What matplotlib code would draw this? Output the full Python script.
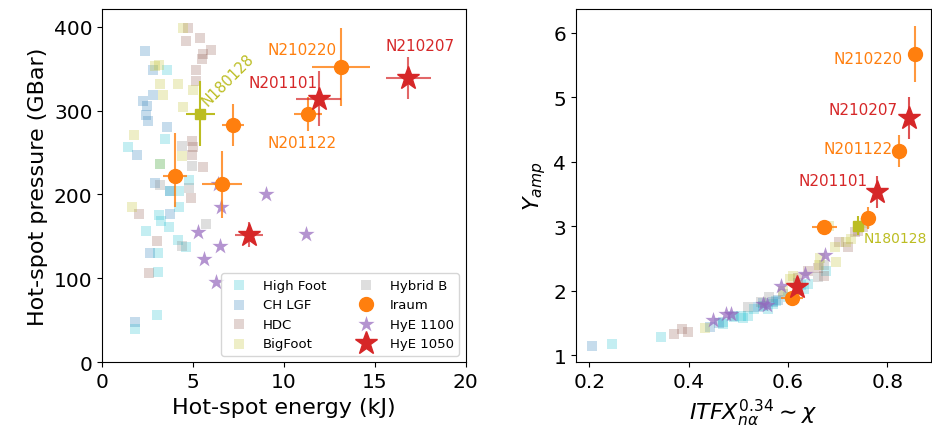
import matplotlib
matplotlib.use("Agg")
import matplotlib.pyplot as plt

# ---------------- Left panel data (Hot-spot energy kJ, pressure GBar) ----------------
hf_E = [3.57, 3.47, 1.44, 3.19, 4.76, 4.21, 3.75, 3.10, 4.24, 3.25, 3.65, 2.42, 4.17, 4.58, 3.05, 3.05, 3.01, 1.81]
hf_P = [348.7, 266.4, 256.1, 236.2, 217.4, 204.3, 204.3, 175.7, 184.6, 167.8, 160.7, 156.6, 145.9, 137.2, 130.0, 108.2, 56.4, 39.7]
ch_E = [2.37, 2.79, 2.79, 2.22, 2.46, 2.42, 2.52, 3.57, 1.91, 2.92, 3.75, 2.64, 1.81, 3.75]
ch_P = [370.6, 348.7, 318.8, 311.7, 305.7, 295.0, 287.9, 280.7, 247.3, 213.5, 204.3, 130.0, 48.6, 176.5]
hdc_E = [4.70, 4.58, 5.35, 6.00, 5.55, 5.46, 5.13, 5.13, 4.91, 5.00, 4.95, 5.55, 4.89, 2.03, 3.01, 2.55]
hdc_P = [398.5, 383.3, 386.5, 372.6, 367.7, 361.8, 348.7, 334.9, 263.3, 256.1, 247.3, 232.6, 195.7, 176.9, 144.6, 106.1]
bf_E = [4.45, 3.10, 2.92, 3.19, 4.17, 5.00, 3.32, 4.45, 1.76, 4.39, 3.16, 1.63]
bf_P = [398.5, 354.6, 352.7, 331.6, 331.6, 324.8, 318.8, 304.2, 271.2, 245.3, 236.2, 184.6]
hyb_E = [4.36, 4.95, 3.19, 4.76, 5.68, 4.36]
hyb_P = [258.0, 233.5, 211.5, 207.5, 165.0, 138.7]

ir_E = [7.19, 13.12, 11.32, 4.00, 6.60]
ir_P = [283.1, 351.9, 295.9, 222.6, 211.9]
ir_Exerr = [0.63, 1.6, 0.75, 0.65, 1.1]
ir_Perr_lo = [25, 46, 20, 38, 40]
ir_Perr_hi = [25, 46, 20, 51, 40]

h1100_E = [9.01, 6.53, 5.28, 11.21, 6.48, 5.61, 6.26, 6.38]
h1100_P = [200.8, 184.9, 155.1, 153.1, 138.4, 123.2, 95.4, 212.7]

h1050_E = [16.84, 11.91, 8.09]
h1050_P = [339.2, 314.1, 152.2]
h1050_Exerr = [1.25, 1.25, 0.78]
h1050_Perr = [25, 33, 15]

n180128_E, n180128_P, n180128_Exerr, n180128_Perr = 5.38, 296.2, 0.8, 39

# ---------------- Right panel data (ITFX^0.34, Y_amp) ----------------
hf_X = [0.246, 0.344, 0.470, 0.469, 0.492, 0.506, 0.532, 0.569, 0.576, 0.633, 0.626, 0.677, 0.550, 0.560, 0.510, 0.520, 0.600, 0.640]
hf_Y = [1.175, 1.28, 1.48, 1.51, 1.585, 1.61, 1.71, 1.79, 1.84, 2.02, 2.08, 2.31, 1.76, 1.72, 1.57, 1.60, 1.90, 2.10]
ch_X = [0.205, 0.442, 0.540, 0.550, 0.570, 0.490, 0.580, 0.460]
ch_Y = [1.135, 1.44, 1.75, 1.80, 1.82, 1.60, 1.85, 1.50]
hdc_X = [0.371, 0.387, 0.399, 0.673, 0.703, 0.720, 0.734, 0.741, 0.751, 0.660, 0.620, 0.640]
hdc_Y = [1.33, 1.41, 1.36, 2.23, 2.75, 2.67, 2.91, 2.93, 2.98, 2.35, 2.20, 2.30]
bf_X = [0.433, 0.589, 0.603, 0.609, 0.663, 0.697, 0.694, 0.717, 0.727, 0.683, 0.755, 0.665]
bf_Y = [1.42, 2.00, 2.18, 2.23, 2.39, 2.45, 2.67, 2.75, 2.80, 3.00, 3.05, 2.50]
hyb_X = [0.519, 0.546, 0.562, 0.660, 0.673, 0.590, 0.620]
hyb_Y = [1.74, 1.82, 1.90, 2.21, 2.39, 1.95, 2.12]

ir_X = [0.762, 0.855, 0.824, 0.673, 0.608]
ir_Y = [3.13, 5.67, 4.17, 2.98, 1.885]
ir_Xerr = [0.01, 0.0, 0.0, 0.025, 0.022]
ir_Yerr = [0.17, 0.44, 0.25, 0.0, 0.0]

h1100_X = [0.448, 0.475, 0.485, 0.549, 0.586, 0.635, 0.675, 0.558]
h1100_Y = [1.548, 1.64, 1.64, 1.79, 2.07, 2.26, 2.55, 1.77]

h1050_X = [0.843, 0.779, 0.618]
h1050_Y = [4.68, 3.53, 2.05]
h1050_Yerr = [0.32, 0.25, 0.1]

n180128_X, n180128_Y, n180128_Yerr = 0.741, 3.01, 0.15

# annotation labels
lab_left = {"N210220": (11.0, 373), "N210207": (17.48, 377.7), "N201101": (9.97, 333),
            "N201122": (11.0, 262.5)}
lab_right = {"N210220": (0.831, 5.6), "N210207": (0.82, 4.81), "N201122": (0.811, 4.21),
             "N201101": (0.76, 3.71)}
lab_colors = {"N210220": "tab:orange", "N201122": "tab:orange", "N210207": "tab:red", "N201101": "tab:red"}

fig = plt.figure(figsize=(9.32, 4.39), dpi=100)
axL = fig.add_axes([0.1098, 0.1724, 0.3899, 0.8048])
axR = fig.add_axes([0.618, 0.1724, 0.381, 0.8048])

sq = 52
bg_series = [
    ("High Foot", "tab:cyan"),
    ("CH LGF", "tab:blue"),
    ("HDC", "tab:brown"),
    ("BigFoot", "tab:olive"),
    ("Hybrid B", "tab:gray"),
]
left_bg = [(hf_E, hf_P), (ch_E, ch_P), (hdc_E, hdc_P), (bf_E, bf_P), (hyb_E, hyb_P)]
right_bg = [(hf_X, hf_Y), (ch_X, ch_Y), (hdc_X, hdc_Y), (bf_X, bf_Y), (hyb_X, hyb_Y)]

for ax, bgdata in ((axL, left_bg), (axR, right_bg)):
    for (name, col), (xs, ys) in zip(bg_series, bgdata):
        ax.scatter(xs, ys, s=sq, marker="s", color=col, alpha=0.25, linewidths=0,
                   label=name, zorder=2)

# ---- Left highlighted ----
axL.errorbar(n180128_E, n180128_P, xerr=n180128_Exerr, yerr=n180128_Perr, fmt="s",
             color="tab:olive", ms=7.5, elinewidth=1.5, zorder=3)
axL.scatter(h1100_E, h1100_P, s=150, marker="*", color="tab:purple", alpha=0.7,
            linewidths=0, label="HyE 1100", zorder=4)
axL.errorbar(ir_E, ir_P, xerr=ir_Exerr, yerr=[ir_Perr_lo, ir_Perr_hi], fmt="none",
             ecolor="tab:orange", elinewidth=1.5, alpha=0.8, zorder=5)
axL.plot(ir_E, ir_P, "o", color="tab:orange", ms=10, ls="none", label="Iraum", zorder=5)
axL.errorbar(h1050_E, h1050_P, xerr=h1050_Exerr, yerr=h1050_Perr, fmt="none",
             ecolor="tab:red", elinewidth=1.5, alpha=0.7, zorder=6)
axL.plot(h1050_E, h1050_P, "*", color="tab:red", ms=17, ls="none", label="HyE 1050", zorder=6)

for k, (x, y) in lab_left.items():
    axL.text(x, y, k, color=lab_colors[k], fontsize=11, ha="center", va="center")
axL.text(6.9, 337, "N180128", color="tab:olive", fontsize=10.5, rotation=45,
         ha="center", va="center")

axL.set_xlim(0, 20)
axL.set_ylim(0, 421)
axL.set_xticks([0, 5, 10, 15, 20])
axL.set_yticks([0, 100, 200, 300, 400])
axL.set_xlabel("Hot-spot energy (kJ)", fontsize=16)
axL.set_ylabel("Hot-spot pressure (GBar)", fontsize=16)
axL.tick_params(labelsize=14.5)

handles, labels = axL.get_legend_handles_labels()
order = ["High Foot", "CH LGF", "HDC", "BigFoot", "Hybrid B", "Iraum", "HyE 1100", "HyE 1050"]
hmap = dict(zip(labels, handles))
axL.legend([hmap[o] for o in order], order, loc="lower right", ncol=2, fontsize=9.5,
           scatterpoints=1, numpoints=1)

# ---- Right highlighted ----
axR.errorbar(n180128_X, n180128_Y, yerr=n180128_Yerr, fmt="s", color="tab:olive",
             ms=7.5, elinewidth=1.5, zorder=3)
axR.scatter(h1100_X, h1100_Y, s=150, marker="*", color="tab:purple", alpha=0.7,
            linewidths=0, zorder=4)
axR.errorbar(ir_X, ir_Y, xerr=ir_Xerr, yerr=ir_Yerr, fmt="none", ecolor="tab:orange",
             elinewidth=1.5, alpha=0.8, zorder=5)
axR.plot(ir_X, ir_Y, "o", color="tab:orange", ms=10, ls="none", zorder=5)
axR.errorbar(h1050_X, h1050_Y, yerr=h1050_Yerr, fmt="none", ecolor="tab:red",
             elinewidth=1.5, alpha=0.8, zorder=6)
axR.plot(h1050_X, h1050_Y, "*", color="tab:red", ms=17, ls="none", zorder=6)

for k, (x, y) in lab_right.items():
    axR.text(x, y, k, color=lab_colors[k], fontsize=11, ha="right", va="center")
axR.text(0.753, 2.81, "N180128", color="tab:olive", fontsize=10, ha="left", va="center")

axR.set_xlim(0.173, 0.888)
axR.set_ylim(0.887, 6.37)
axR.set_xticks([0.2, 0.4, 0.6, 0.8])
axR.set_yticks([1, 2, 3, 4, 5, 6])
axR.set_xlabel(r"$ITFX_{n\alpha}^{0.34} \sim \chi$", fontsize=16)
axR.set_ylabel(r"$Y_{amp}$", fontsize=16)
axR.tick_params(labelsize=14.5)

fig.savefig("out.png", dpi=100)
